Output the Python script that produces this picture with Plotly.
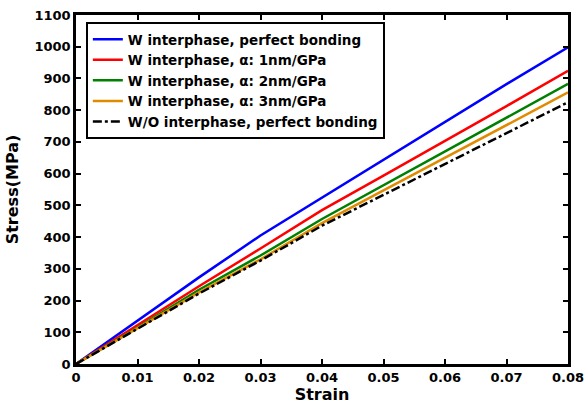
import plotly.graph_objects as go

strain = [0, 0.01, 0.02, 0.03, 0.04, 0.05, 0.06, 0.07, 0.08]
w_perfect = [0, 137, 273, 405, 524, 644, 763, 882, 998]
w_alpha1 = [0, 122, 245, 364, 485, 594, 703, 813, 924]
w_alpha2 = [0, 115, 234, 342, 457, 563, 670, 777, 883]
w_alpha3 = [0, 113, 226, 330, 444, 547, 650, 753, 856]
wo_perfect = [0, 110, 222, 326, 436, 533, 630, 728, 825]

x_tickvals = [0, 0.01, 0.02, 0.03, 0.04, 0.05, 0.06, 0.07, 0.08]
x_ticktext = ["0", "0.01", "0.02", "0.03", "0.04", "0.05", "0.06", "0.07", "0.08"]

names = ["W interphase, perfect bonding", "W interphase, \u03b1: 1nm/GPa",
         "W interphase, \u03b1: 2nm/GPa", "W interphase, \u03b1: 3nm/GPa",
         "W/O interphase, perfect bonding"]
series = [w_perfect, w_alpha1, w_alpha2, w_alpha3, wo_perfect]
colors = ["#0000ff", "#ff0000", "#008000", "#e08a00", "#000000"]
dashes = ["solid", "solid", "solid", "solid", "dashdot"]

FONT = "DejaVu Sans"

fig = go.Figure()
for n, s, c, d in zip(names, series, colors, dashes):
    fig.add_trace(go.Scatter(x=strain, y=s, mode="lines", name=n,
                             line=dict(color=c, width=2.5, dash=d)))

axis_common = dict(showline=True, linecolor="black", linewidth=2.5, mirror="ticks",
                   ticks="inside", ticklen=5, tickwidth=2, tickcolor="black",
                   showgrid=False, zeroline=False, automargin=False,
                   ticklabeloverflow="allow",
                   tickfont=dict(family=FONT, size=13, color="black", weight="bold"))

fig.update_layout(
    width=585, height=405,
    margin=dict(l=76, r=17, t=15, b=41),
    paper_bgcolor="white", plot_bgcolor="white",
    font=dict(family=FONT, color="black", weight="bold"),
    xaxis=dict(range=[0, 0.08], tickvals=x_tickvals, ticktext=x_ticktext,
               title=dict(text="<b>Strain</b>", font=dict(family=FONT, size=16), standoff=0), **axis_common),
    yaxis=dict(range=[0, 1100], dtick=100,
               title=dict(text="<b>Stress(MPa)</b>", font=dict(family=FONT, size=16), standoff=12), **axis_common),
    legend=dict(x=0.02, y=0.98, xanchor="left", yanchor="top",
                bgcolor="white", bordercolor="black", borderwidth=2,
                font=dict(family=FONT, size=13.5, color="black", weight="bold"),
                tracegroupgap=0, itemwidth=30),
    showlegend=True,
)

# remove the browser's default 8px body margin so the 585x405 figure fills the window
fig.write_html("out.html",
               config={"displayModeBar": False},
               post_script="document.body.style.margin='0px';document.body.style.overflow='hidden';")
